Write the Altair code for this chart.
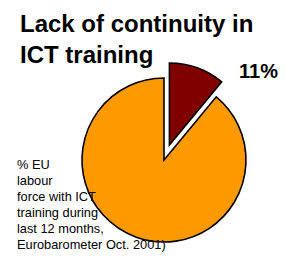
import math
import altair as alt
import pandas as pd

# Data
segments = ["With ICT training", "Without ICT training"]
shares = [11, 89]
colors = ["#800000", "#FF9900"]
label_text = ["11%"]
title_lines = ["Lack of continuity in", "ICT training"]
note_lines = ["% EU", "labour", "force with ICT", "training during",
              "last 12 months,", "Eurobarometer Oct. 2001)"]

# Layout (pixels; chart origin sits at the page's 8px margin)
W, H = 270, 244
CX, CY, R = 156, 152, 82
EXPLODE = 16

df = pd.DataFrame({"segment": segments, "share": shares, "order": [0, 1]})

theta_scale = alt.Scale(domain=[0, 100], range=[0, 2 * math.pi])
color_scale = alt.Scale(domain=segments, range=colors)

base = alt.Chart(df).transform_stack(
    stack="share", groupby=[], as_=["s0", "s1"], sort=[alt.SortField("order")]
)

def arc_layer(seg, dx, dy):
    return base.transform_filter(alt.datum.segment == seg).mark_arc(
        radius=R, stroke="black", strokeWidth=1.6, xOffset=dx, yOffset=dy
    ).encode(
        theta=alt.Theta("s0:Q", scale=theta_scale),
        theta2="s1:Q",
        color=alt.Color("segment:N", scale=color_scale, legend=None),
        x=alt.value(CX),
        y=alt.value(CY),
    )

mid = shares[0] / 100 * math.pi  # mid-angle of exploded slice (radians from top)
dx = EXPLODE * math.sin(mid)
dy = -EXPLODE * math.cos(mid)

pie_main = arc_layer(segments[1], 0, 0)
pie_expl = arc_layer(segments[0], dx, dy)

title = alt.Chart(pd.DataFrame({"t": [title_lines]})).mark_text(
    align="left", baseline="alphabetic", font="Liberation Sans",
    fontSize=24, fontWeight="bold", lineHeight=31, color="black"
).encode(text="t", x=alt.value(12), y=alt.value(24))

pct = alt.Chart(pd.DataFrame({"t": label_text})).mark_text(
    align="right", baseline="alphabetic", font="Liberation Sans",
    fontSize=20, fontWeight="bold", color="black"
).encode(text="t:N", x=alt.value(270), y=alt.value(70))

note = alt.Chart(pd.DataFrame({"t": [note_lines]})).mark_text(
    align="left", baseline="alphabetic", font="Liberation Sans",
    fontSize=12.8, lineHeight=16, color="black"
).encode(text="t", x=alt.value(9), y=alt.value(161))

chart = alt.layer(pie_main, pie_expl, title, pct, note).properties(
    width=W, height=H, padding=0, autosize=alt.AutoSizeParams(type="none")
).configure_view(stroke=None)

chart.save("out.html", embed_options={"renderer": "svg", "actions": False})
